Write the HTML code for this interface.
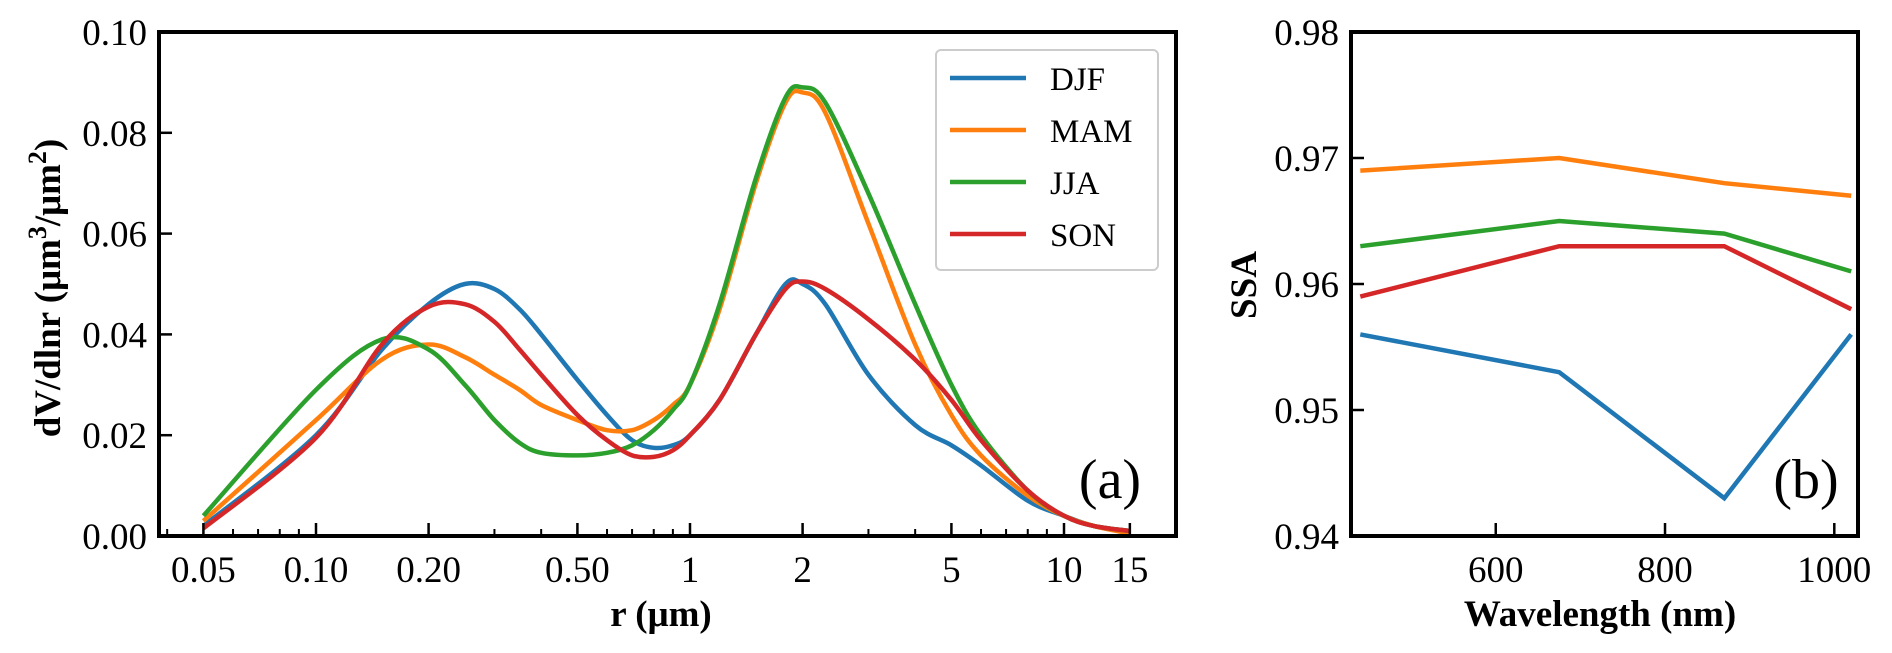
<!DOCTYPE html>
<html><head><meta charset="utf-8">
<style>
html,body{margin:0;padding:0;background:#fff;}
svg{display:block;font-family:"Liberation Serif",serif;}
</style></head>
<body>
<svg id="chart" width="1892" height="653" viewBox="0 0 1892 653"></svg>
<script>
// ---- Panel (a) data ----
const radii = [0.05,0.1,0.15,0.2,0.25,0.3,0.35,0.4,0.5,0.6,0.7,0.8,0.9,1.0,1.2,1.5,1.8,2.0,2.3,3,4,5,6,8,10,12,15];
const djfSize = [0.002,0.020,0.037,0.046,0.050,0.049,0.045,0.040,0.031,0.024,0.019,0.0175,0.018,0.020,0.027,0.040,0.050,0.050,0.046,0.032,0.022,0.018,0.014,0.007,0.004,0.002,0.001];
const mamSize = [0.003,0.023,0.035,0.038,0.0355,0.032,0.029,0.026,0.023,0.021,0.021,0.023,0.026,0.030,0.045,0.070,0.086,0.088,0.084,0.062,0.038,0.024,0.016,0.008,0.004,0.002,0.0005];
const jjaSize = [0.004,0.029,0.039,0.037,0.030,0.023,0.0185,0.0165,0.016,0.0165,0.018,0.021,0.025,0.030,0.046,0.071,0.087,0.089,0.086,0.068,0.046,0.030,0.020,0.009,0.004,0.002,0.001];
const sonSize = [0.0015,0.0195,0.038,0.0455,0.046,0.0425,0.037,0.032,0.024,0.019,0.016,0.0157,0.017,0.020,0.027,0.040,0.049,0.0505,0.049,0.043,0.035,0.027,0.019,0.009,0.004,0.002,0.001];
const xTicksA = [0.05,0.1,0.2,0.5,1,2,5,10,15];
const xTickLabelsA = ["0.05","0.10","0.20","0.50","1","2","5","10","15"];
const yTicksA = [0,0.02,0.04,0.06,0.08,0.10];
const yTickLabelsA = ["0.00","0.02","0.04","0.06","0.08","0.10"];
// ---- Panel (b) data ----
const wavelengths = [440,675,870,1020];
const djfSSA = [0.956,0.953,0.943,0.956];
const mamSSA = [0.969,0.970,0.968,0.967];
const jjaSSA = [0.963,0.965,0.964,0.961];
const sonSSA = [0.959,0.963,0.963,0.958];
const xTicksB = [600,800,1000];
const yTicksB = [0.94,0.95,0.96,0.97,0.98];
const yTickLabelsB = ["0.94","0.95","0.96","0.97","0.98"];
const seasons = ["DJF","MAM","JJA","SON"];
const colors = ["#1f77b4","#ff7f0e","#2ca02c","#d62728"];

const NS="http://www.w3.org/2000/svg";
const svg=document.getElementById('chart');
function mk(tag,attrs,parent){const e=document.createElementNS(NS,tag);for(const k in attrs)e.setAttribute(k,attrs[k]);(parent||svg).appendChild(e);return e;}
function smoothPath(pts){
  let d='M'+pts[0][0].toFixed(1)+','+pts[0][1].toFixed(1);
  for(let i=0;i<pts.length-1;i++){
    const p0=pts[Math.max(0,i-1)],p1=pts[i],p2=pts[i+1],p3=pts[Math.min(pts.length-1,i+2)];
    const c1=[p1[0]+(p2[0]-p0[0])/6,p1[1]+(p2[1]-p0[1])/6];
    const c2=[p2[0]-(p3[0]-p1[0])/6,p2[1]-(p3[1]-p1[1])/6];
    d+=' C'+c1[0].toFixed(1)+','+c1[1].toFixed(1)+' '+c2[0].toFixed(1)+','+c2[1].toFixed(1)+' '+p2[0].toFixed(1)+','+p2[1].toFixed(1);
  }
  return d;
}

const aL=159,aR=1176,aT=32,aB=536;
const xA=r=>690+374*Math.log10(r);
const yA=v=>aB-(v/0.1)*(aB-aT);
const bL=1351,bR=1858;
const xB=w=>bL+(w-429)/(1028-429)*(bR-bL);
const yB=v=>aB-(v-0.94)/0.04*(aB-aT);
const TF=37;

const gA=mk('g',{});


[djfSize,mamSize,jjaSize,sonSize].forEach((s,i)=>{
  const pts=s.map((v,j)=>[xA(radii[j]),yA(v)]);
  const p=mk('path',{d:smoothPath(pts),fill:'none',stroke:colors[i],'stroke-width':4.5,'stroke-linejoin':'round'},gA);
  
  
});
const fA=mk('rect',{x:aL,y:aT,width:aR-aL,height:aB-aT,fill:'none',stroke:'#000','stroke-width':4},gA);


for(let d=-2;d<=1;d++){for(let m=1;m<=9;m++){const r=m*Math.pow(10,d);const x=xA(r);if(x<aL+2||x>aR-2)continue;
  mk('line',{x1:x,y1:aB,x2:x,y2:aB-7,stroke:'#000','stroke-width':2},gA);}}
xTicksA.forEach((t,i)=>{const x=xA(t);
  mk('line',{x1:x,y1:aB,x2:x,y2:aB-13,stroke:'#000','stroke-width':2.5},gA);
  const tx=mk('text',{x:x,y:aB+46,'text-anchor':'middle','font-size':TF},gA);tx.textContent=xTickLabelsA[i];
  
  
});
yTicksA.forEach((t,i)=>{const y=yA(t);
  mk('line',{x1:aL,y1:y,x2:aL+13,y2:y,stroke:'#000','stroke-width':2.5},gA);
  const tx=mk('text',{x:aL-12,y:y+13,'text-anchor':'end','font-size':TF},gA);tx.textContent=yTickLabelsA[i];
  
  
});
const xtA=mk('text',{x:661,y:626,'text-anchor':'middle','font-size':37,'font-weight':'bold'},gA);xtA.textContent='r (μm)';


const ytA=mk('text',{x:0,y:0,'text-anchor':'middle','font-size':37,'font-weight':'bold',transform:'translate(60,288) rotate(-90)'},gA);
ytA.innerHTML='dV/dlnr (μm<tspan dy="-14" font-size="26">3</tspan><tspan dy="14">/μm</tspan><tspan dy="-14" font-size="26">2</tspan><tspan dy="14">)</tspan>';


const la=mk('text',{x:1110,y:498,'text-anchor':'middle','font-size':56},gA);la.textContent='(a)';


const lg=mk('g',{},gA);


mk('rect',{x:936,y:50,width:222,height:220,rx:5,fill:'#fff',stroke:'#ccc','stroke-width':2},lg);
seasons.forEach((s,i)=>{const y=78+i*52;
  const e=mk('g',{},lg);
  
  
  mk('line',{x1:950,y1:y,x2:1026,y2:y,stroke:colors[i],'stroke-width':4.5},e);
  const t=mk('text',{x:1050,y:y+12,'font-size':33},e);t.textContent=s;
});

const gB=mk('g',{});


[djfSSA,mamSSA,jjaSSA,sonSSA].forEach((s,i)=>{
  const p=mk('polyline',{points:s.map((v,j)=>xB(wavelengths[j]).toFixed(1)+','+yB(v).toFixed(1)).join(' '),fill:'none',stroke:colors[i],'stroke-width':4.5},gB);
  
  
});
const fB=mk('rect',{x:bL,y:aT,width:bR-bL,height:aB-aT,fill:'none',stroke:'#000','stroke-width':4},gB);


xTicksB.forEach(t=>{const x=xB(t);
  mk('line',{x1:x,y1:aB,x2:x,y2:aB-13,stroke:'#000','stroke-width':2.5},gB);
  const tx=mk('text',{x:x,y:aB+46,'text-anchor':'middle','font-size':TF},gB);tx.textContent=String(t);
  
  
});
yTicksB.forEach((t,i)=>{const y=yB(t);
  mk('line',{x1:bL,y1:y,x2:bL+13,y2:y,stroke:'#000','stroke-width':2.5},gB);
  const tx=mk('text',{x:bL-12,y:y+13,'text-anchor':'end','font-size':TF},gB);tx.textContent=yTickLabelsB[i];
  
  
});
const xtB=mk('text',{x:1600,y:626,'text-anchor':'middle','font-size':37,'font-weight':'bold'},gB);xtB.textContent='Wavelength (nm)';


const ytB=mk('text',{x:0,y:0,'text-anchor':'middle','font-size':37,'font-weight':'bold',transform:'translate(1256,285) rotate(-90)'},gB);ytB.textContent='SSA';


const lb=mk('text',{x:1806,y:498,'text-anchor':'middle','font-size':56},gB);lb.textContent='(b)';


</script>
</body></html>
